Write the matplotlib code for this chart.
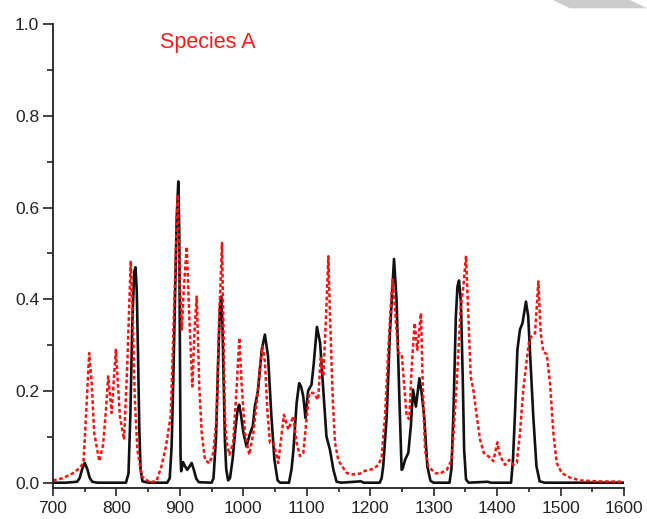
import matplotlib
matplotlib.use("Agg")
import matplotlib.pyplot as plt
from matplotlib.patches import Polygon
from matplotlib.ticker import MultipleLocator

plt.rcParams['font.family'] = ['Liberation Sans', 'DejaVu Sans']

# Black (solid) spectrum
black_x = [700, 720, 738, 742, 746, 750, 754, 758, 762, 770, 815, 819, 822, 825, 828, 830, 832, 834,
           836, 838, 841, 850, 880, 884, 887, 890, 893, 895, 897.5, 899, 900, 901, 902, 905, 908,
           911.5, 915, 918.5, 922, 926, 930, 950, 953, 957, 960, 963, 965, 967, 969, 971, 973, 976,
           979, 983, 987, 991, 993.5, 996, 1000, 1005, 1010, 1015, 1018, 1023, 1029, 1034, 1039,
           1044, 1049, 1054, 1058, 1072, 1076, 1079, 1084, 1088, 1091, 1094.5, 1098, 1102, 1107.5,
           1111, 1116, 1121, 1126, 1131, 1136.5, 1142, 1147, 1155, 1185, 1190, 1215, 1218, 1220.5,
           1226, 1231, 1235.5, 1237.5, 1241.5, 1246, 1249.5, 1251, 1255, 1260, 1264, 1267.5, 1272,
           1277.5, 1281, 1285, 1290, 1295, 1300, 1325, 1328, 1331, 1335, 1337.5, 1340, 1343, 1346,
           1348, 1351, 1355, 1385, 1390, 1422, 1425, 1428, 1432, 1436, 1440, 1445.5, 1449, 1453,
           1457, 1462, 1467, 1475, 1600]
black_y = [0.0, 0.0, 0.002, 0.01, 0.03, 0.043, 0.03, 0.01, 0.002, 0.0, 0.0, 0.02, 0.15, 0.35, 0.46,
           0.47, 0.42, 0.28, 0.12, 0.03, 0.003, 0.0, 0.0, 0.01, 0.08, 0.25, 0.45, 0.58, 0.657, 0.55,
           0.3, 0.06, 0.025, 0.045, 0.036, 0.028, 0.035, 0.043, 0.028, 0.008, 0.001, 0.0, 0.01, 0.1,
           0.25, 0.38, 0.406, 0.35, 0.22, 0.09, 0.03, 0.005, 0.01, 0.05, 0.11, 0.16, 0.17, 0.15,
           0.11, 0.079, 0.105, 0.124, 0.165, 0.2, 0.29, 0.323, 0.275, 0.15, 0.05, 0.005, 0.0, 0.0,
           0.03, 0.072, 0.174, 0.217, 0.21, 0.188, 0.141, 0.2, 0.214, 0.26, 0.34, 0.305, 0.203,
           0.101, 0.072, 0.028, 0.002, 0.0, 0.003, 0.0, 0.0, 0.01, 0.036, 0.145, 0.326, 0.436,
           0.488, 0.399, 0.181, 0.028, 0.03, 0.05, 0.065, 0.123, 0.203, 0.166, 0.228, 0.196, 0.145,
           0.036, 0.004, 0.0, 0.0, 0.03, 0.145, 0.363, 0.428, 0.441, 0.392, 0.217, 0.072, 0.007,
           0.0, 0.002, 0.0, 0.0, 0.05, 0.145, 0.29, 0.334, 0.348, 0.395, 0.363, 0.254, 0.145,
           0.036, 0.003, 0.0, 0.0]

# Red (dotted) spectrum - Species A
red_x = [700, 716, 732, 742, 748, 752, 757, 761, 765, 773, 779, 783.5, 787, 792.5, 799, 805.5, 812,
         817, 822.5, 825.5, 829, 833, 840, 853, 863.5, 871, 878, 885.5, 890.5, 896.5, 900, 903, 906,
         910.8, 914.8, 919.6, 923, 926.5, 930.6, 934.4, 939.6, 946.4, 952.7, 958, 962, 966.4,
         968.4, 971, 973.8, 978, 984, 989.6, 993.7, 997.5, 1002.6, 1009.4, 1015.7, 1021, 1026.3,
         1030.5, 1034.2, 1037.8, 1042, 1047.3, 1051.5, 1055, 1060.5, 1064, 1071, 1078.8, 1084,
         1089.3, 1094.6, 1100, 1104, 1110, 1118, 1122, 1126, 1130, 1134, 1136.6, 1141, 1144.5,
         1149.7, 1152.4, 1163, 1173.4, 1184, 1192, 1205, 1213, 1218, 1223.3, 1228.5, 1234, 1235.5,
         1239, 1244.3, 1249.6, 1253.3, 1257.5, 1261.6, 1265.4, 1270, 1274.2, 1280, 1282.7, 1286.4,
         1291.6, 1302, 1310, 1320.6, 1328.5, 1336.4, 1342.7, 1346.8, 1351, 1354.7, 1358.4, 1362.5,
         1368, 1373, 1379, 1386, 1394, 1400.4, 1404.6, 1412.5, 1419.3, 1425.6, 1431, 1436, 1441.3,
         1446.7, 1450.8, 1454.5, 1459.8, 1465, 1468.7, 1473, 1478.2, 1483.4, 1488.7, 1494, 1502,
         1515, 1530.7, 1557, 1600]
red_y = [0.005, 0.010, 0.021, 0.032, 0.043, 0.145, 0.283, 0.217, 0.108, 0.047, 0.083, 0.159, 0.232,
         0.152, 0.29, 0.145, 0.094, 0.254, 0.484, 0.363, 0.181, 0.072, 0.014, 0.0, 0.005, 0.036,
         0.079, 0.145, 0.363, 0.628, 0.436, 0.334, 0.42, 0.515, 0.363, 0.21, 0.33, 0.406, 0.21,
         0.108, 0.05, 0.042, 0.065, 0.145, 0.363, 0.523, 0.363, 0.145, 0.087, 0.061, 0.087, 0.21,
         0.316, 0.21, 0.108, 0.061, 0.108, 0.174, 0.254, 0.297, 0.261, 0.159, 0.087, 0.087, 0.065,
         0.043, 0.108, 0.148, 0.116, 0.145, 0.087, 0.058, 0.065, 0.145, 0.196, 0.196, 0.181, 0.275,
         0.232, 0.35, 0.494, 0.363, 0.181, 0.087, 0.05, 0.043, 0.021, 0.018, 0.020, 0.026, 0.030,
         0.039, 0.056, 0.145, 0.29, 0.421, 0.443, 0.377, 0.283, 0.281, 0.217, 0.145, 0.139, 0.254,
         0.348, 0.29, 0.37, 0.217, 0.072, 0.036, 0.021, 0.020, 0.028, 0.05, 0.217, 0.385, 0.428,
         0.495, 0.363, 0.232, 0.203, 0.145, 0.095, 0.065, 0.058, 0.047, 0.088, 0.058, 0.039, 0.05,
         0.039, 0.043, 0.108, 0.203, 0.268, 0.312, 0.319, 0.326, 0.439, 0.326, 0.284, 0.281, 0.217,
         0.108, 0.043, 0.021, 0.011, 0.005, 0.003, 0.002]

label_text = "Species A"
x_ticks = [700, 800, 900, 1000, 1100, 1200, 1300, 1400, 1500, 1600]
y_ticks = [0.0, 0.2, 0.4, 0.6, 0.8, 1.0]

W, H = 647, 519
fig = plt.figure(figsize=(W / 100, H / 100), dpi=100)
ax = fig.add_axes([53 / W, 1 - 487.5 / H, (624 - 53) / W, (487.5 - 24.3) / H])

ax.plot(black_x, black_y, color='#111111', lw=1.9, solid_joinstyle='round')
ax.plot(red_x, red_y, color='#ff1010', lw=1.8, dashes=(1.5, 1.0))

ax.set_xlim(700, 1600)
ax.set_ylim(-0.0105, 1.0)
ax.set_xticks(x_ticks)
ax.set_yticks(y_ticks)
ax.set_yticklabels([f"{v:.1f}" for v in y_ticks])
ax.xaxis.set_minor_locator(MultipleLocator(50))
ax.yaxis.set_minor_locator(MultipleLocator(0.1))

for s in ['top', 'right']:
    ax.spines[s].set_visible(False)
for s in ['left', 'bottom']:
    ax.spines[s].set_linewidth(1.3)
    ax.spines[s].set_color('#222222')

ax.tick_params(axis='both', which='both', direction='out', colors='#222222', labelcolor='#222222',
               labelsize=12.5, width=1.2)
ax.tick_params(axis='y', which='major', length=7, pad=3)
ax.tick_params(axis='y', which='minor', length=4)
ax.tick_params(axis='x', which='major', length=5.5, pad=4)
ax.tick_params(axis='x', which='minor', length=3)

ax.text(943.5, 0.949, label_text, color='#ff1a1a', fontsize=15.5, ha='center', va='baseline')

# grey corner decoration
pts = [(553, 0), (630, 0), (647, 8.3), (570, 8.3)]
poly = Polygon([(px / W, 1 - py / H) for px, py in pts], closed=True,
               transform=fig.transFigure, facecolor='#cccccc', edgecolor='none')
fig.patches.append(poly)

fig.savefig("out.png", dpi=100)
